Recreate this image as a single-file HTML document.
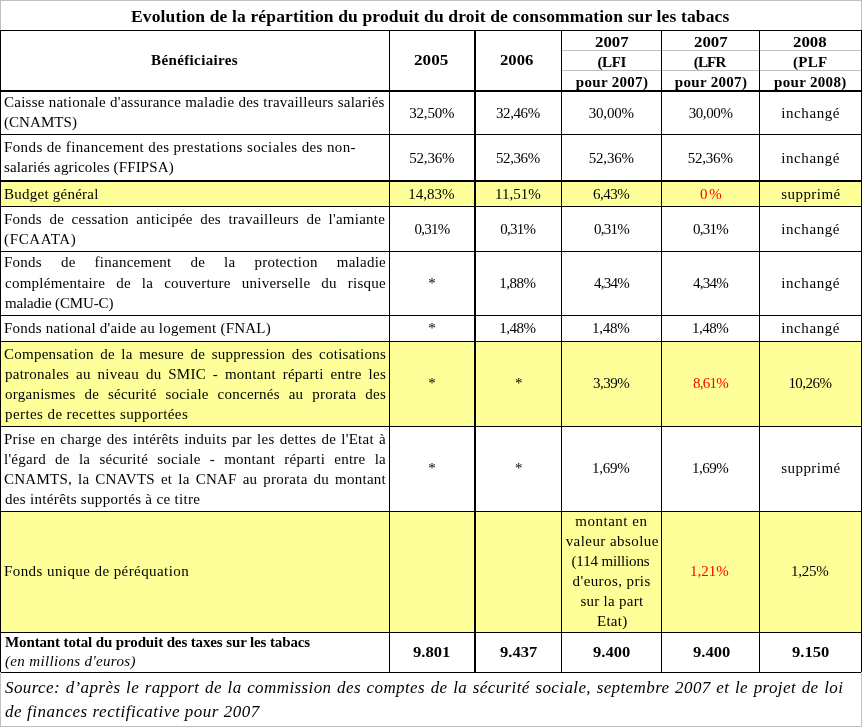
<!DOCTYPE html><html><head><meta charset="utf-8"><style>html,body{margin:0;padding:0;background:#fff;width:862px;height:727px;overflow:hidden;}.t{position:absolute;font-family:"Liberation Serif",serif;white-space:pre;line-height:30px;height:30px;}.j{text-align:justify;text-align-last:justify;white-space:normal;}.l{position:absolute;}</style></head><body>
<div class="l" style="left:0;top:182px;width:862px;height:24px;background:#ffff99"></div>
<div class="l" style="left:0;top:342px;width:862px;height:84px;background:#ffff99"></div>
<div class="l" style="left:0;top:512px;width:862px;height:120px;background:#ffff99"></div>
<div class="l" style="left:0px;top:0px;width:862px;height:1px;background:#c0c0c0"></div>
<div class="l" style="left:0px;top:726px;width:862px;height:1px;background:#c0c0c0"></div>
<div class="l" style="left:0px;top:30px;width:862px;height:1px;background:#000"></div>
<div class="l" style="left:562px;top:50px;width:299px;height:1px;background:#c0c0c0"></div>
<div class="l" style="left:562px;top:70px;width:299px;height:1px;background:#c0c0c0"></div>
<div class="l" style="left:0px;top:90px;width:862px;height:2px;background:#000"></div>
<div class="l" style="left:0px;top:134px;width:862px;height:1px;background:#000"></div>
<div class="l" style="left:0px;top:180px;width:862px;height:2px;background:#000"></div>
<div class="l" style="left:0px;top:206px;width:862px;height:1px;background:#000"></div>
<div class="l" style="left:0px;top:251px;width:862px;height:1px;background:#000"></div>
<div class="l" style="left:0px;top:315px;width:862px;height:1px;background:#000"></div>
<div class="l" style="left:0px;top:341px;width:862px;height:1px;background:#000"></div>
<div class="l" style="left:0px;top:426px;width:862px;height:1px;background:#000"></div>
<div class="l" style="left:0px;top:511px;width:862px;height:1px;background:#000"></div>
<div class="l" style="left:0px;top:632px;width:862px;height:1px;background:#000"></div>
<div class="l" style="left:1px;top:672px;width:860px;height:1px;background:#000"></div>
<div class="l" style="left:0px;top:0px;width:1px;height:727px;background:#c0c0c0"></div>
<div class="l" style="left:861px;top:0px;width:1px;height:727px;background:#c0c0c0"></div>
<div class="l" style="left:0px;top:30px;width:1px;height:642px;background:#000"></div>
<div class="l" style="left:861px;top:30px;width:1px;height:642px;background:#000"></div>
<div class="l" style="left:389px;top:30px;width:1px;height:643px;background:#000"></div>
<div class="l" style="left:474px;top:30px;width:2px;height:643px;background:#000"></div>
<div class="l" style="left:561px;top:30px;width:1px;height:643px;background:#000"></div>
<div class="l" style="left:661px;top:30px;width:1px;height:643px;background:#000"></div>
<div class="l" style="left:759px;top:30px;width:1px;height:643px;background:#000"></div>
<div style="position:absolute;left:0;top:0;width:862px;height:727px;will-change:transform">
<div class="t" id="t0" style="left:131.00px;top:1.00px;font-size:17.5px;letter-spacing:0.143px;font-weight:bold;color:#000">Evolution de la répartition du produit du droit de consommation sur les tabacs</div>
<div class="t" id="t1" style="left:151.10px;top:45.00px;font-size:15px;letter-spacing:0.367px;font-weight:bold;color:#000">Bénéficiaires</div>
<div class="t" id="t2" style="left:414.20px;top:45.00px;font-size:15px;transform:scaleX(1.1434);transform-origin:0 0;font-weight:bold;color:#000">2005</div>
<div class="t" id="t3" style="left:500.30px;top:45.00px;font-size:15px;transform:scaleX(1.1107);transform-origin:0 0;font-weight:bold;color:#000">2006</div>
<div class="t" id="t4" style="left:594.70px;top:27.00px;font-size:15px;transform:scaleX(1.1245);transform-origin:0 0;font-weight:bold;color:#000">2007</div>
<div class="t" id="t5" style="left:597.45px;top:47.00px;font-size:15px;letter-spacing:-0.400px;font-weight:bold;color:#000">(LFI</div>
<div class="t" id="t6" style="left:575.80px;top:67.00px;font-size:15px;letter-spacing:0.311px;font-weight:bold;color:#000">pour 2007)</div>
<div class="t" id="t7" style="left:693.70px;top:27.00px;font-size:15px;transform:scaleX(1.1245);transform-origin:0 0;font-weight:bold;color:#000">2007</div>
<div class="t" id="t8" style="left:693.70px;top:47.00px;font-size:15px;letter-spacing:-0.800px;font-weight:bold;color:#000">(LFR</div>
<div class="t" id="t9" style="left:674.80px;top:67.00px;font-size:15px;letter-spacing:0.311px;font-weight:bold;color:#000">pour 2007)</div>
<div class="t" id="t10" style="left:793.00px;top:27.00px;font-size:15px;transform:scaleX(1.1245);transform-origin:0 0;font-weight:bold;color:#000">2008</div>
<div class="t" id="t11" style="left:793.00px;top:47.00px;font-size:15px;letter-spacing:0.267px;font-weight:bold;color:#000">(PLF</div>
<div class="t" id="t12" style="left:774.10px;top:67.00px;font-size:15px;letter-spacing:0.311px;font-weight:bold;color:#000">pour 2008)</div>
<div class="t j" id="t13" style="left:4.00px;top:87.00px;width:380.70px;font-size:15px;letter-spacing:0.250px;color:#000">Caisse nationale d'assurance maladie des travailleurs salariés</div>
<div class="t" id="t14" style="left:4.00px;top:107.00px;font-size:15px;letter-spacing:0.057px;color:#000">(CNAMTS)</div>
<div class="t" id="t15" style="left:4.00px;top:132.00px;font-size:15px;letter-spacing:0.385px;color:#000">Fonds de financement des prestations sociales des non-</div>
<div class="t" id="t16" style="left:4.00px;top:152.00px;font-size:15px;letter-spacing:0.154px;color:#000">salariés agricoles (FFIPSA)</div>
<div class="t" id="t17" style="left:4.00px;top:179.00px;font-size:15px;letter-spacing:0.246px;color:#000">Budget général</div>
<div class="t j" id="t18" style="left:4.00px;top:204.00px;width:381.20px;font-size:15px;letter-spacing:0.250px;color:#000">Fonds de cessation anticipée des travailleurs de l'amiante</div>
<div class="t" id="t19" style="left:4.00px;top:224.00px;font-size:15px;letter-spacing:0.657px;color:#000">(FCAATA)</div>
<div class="t j" id="t20" style="left:4.00px;top:247.00px;width:382.00px;font-size:15px;letter-spacing:0.250px;color:#000">Fonds de financement de la protection maladie</div>
<div class="t j" id="t21" style="left:5.00px;top:268.00px;width:381.00px;font-size:15px;letter-spacing:0.250px;color:#000">complémentaire de la couverture universelle du risque</div>
<div class="t" id="t22" style="left:5.00px;top:288.00px;font-size:15px;letter-spacing:-0.143px;color:#000">maladie (CMU-C)</div>
<div class="t" id="t23" style="left:4.00px;top:313.00px;font-size:15px;letter-spacing:0.221px;color:#000">Fonds national d'aide au logement (FNAL)</div>
<div class="t j" id="t24" style="left:4.00px;top:339.00px;width:382.00px;font-size:15px;letter-spacing:0.250px;color:#000">Compensation de la mesure de suppression des cotisations</div>
<div class="t j" id="t25" style="left:5.00px;top:359.00px;width:381.00px;font-size:15px;letter-spacing:0.250px;color:#000">patronales au niveau du SMIC - montant réparti entre les</div>
<div class="t j" id="t26" style="left:5.00px;top:379.00px;width:381.00px;font-size:15px;letter-spacing:0.250px;color:#000">organismes de sécurité sociale concernés au prorata des</div>
<div class="t" id="t27" style="left:5.00px;top:399.00px;font-size:15px;letter-spacing:0.414px;color:#000">pertes de recettes supportées</div>
<div class="t j" id="t28" style="left:4.00px;top:424.00px;width:382.00px;font-size:15px;letter-spacing:0.250px;color:#000">Prise en charge des intérêts induits par les dettes de l'Etat à</div>
<div class="t j" id="t29" style="left:4.00px;top:444.00px;width:382.00px;font-size:15px;letter-spacing:0.250px;color:#000">l'égard de la sécurité sociale - montant réparti entre la</div>
<div class="t j" id="t30" style="left:4.00px;top:464.00px;width:382.00px;font-size:15px;letter-spacing:0.250px;color:#000">CNAMTS, la CNAVTS et la CNAF au prorata du montant</div>
<div class="t" id="t31" style="left:5.00px;top:484.00px;font-size:15px;letter-spacing:0.325px;color:#000">des intérêts supportés à ce titre</div>
<div class="t" id="t32" style="left:4.00px;top:556.00px;font-size:15px;letter-spacing:0.423px;color:#000">Fonds unique de péréquation</div>
<div class="t" id="t33" style="left:5.00px;top:627.00px;font-size:15px;letter-spacing:-0.125px;font-weight:bold;color:#000">Montant total du produit des taxes sur les tabacs</div>
<div class="t" id="t34" style="left:5.00px;top:646.00px;font-size:15px;letter-spacing:0.350px;font-style:italic;color:#000">(en millions d'euros)</div>
<div class="t j" id="t35" style="left:5.00px;top:673.00px;width:838.30px;font-size:17px;letter-spacing:0.400px;font-style:italic;color:#000">Source: d’après le rapport de la commission des comptes de la sécurité sociale, septembre 2007 et le projet de loi</div>
<div class="t" id="t36" style="left:5.00px;top:697.00px;font-size:17px;letter-spacing:0.529px;font-style:italic;color:#000">de finances rectificative pour 2007</div>
<div class="t" id="t37" style="left:409.25px;top:98.00px;font-size:15px;letter-spacing:-0.200px;color:#000">32,50%</div>
<div class="t" id="t38" style="left:495.95px;top:98.00px;font-size:15px;letter-spacing:-0.400px;color:#000">32,46%</div>
<div class="t" id="t39" style="left:588.75px;top:98.00px;font-size:15px;letter-spacing:-0.200px;color:#000">30,00%</div>
<div class="t" id="t40" style="left:688.65px;top:98.00px;font-size:15px;letter-spacing:-0.400px;color:#000">30,00%</div>
<div class="t" id="t41" style="left:781.20px;top:98.00px;font-size:15px;letter-spacing:0.600px;color:#000">inchangé</div>
<div class="t" id="t42" style="left:409.25px;top:143.00px;font-size:15px;letter-spacing:-0.200px;color:#000">52,36%</div>
<div class="t" id="t43" style="left:495.95px;top:143.00px;font-size:15px;letter-spacing:-0.400px;color:#000">52,36%</div>
<div class="t" id="t44" style="left:588.75px;top:143.00px;font-size:15px;letter-spacing:-0.200px;color:#000">52,36%</div>
<div class="t" id="t45" style="left:687.65px;top:143.00px;font-size:15px;letter-spacing:-0.200px;color:#000">52,36%</div>
<div class="t" id="t46" style="left:781.20px;top:143.00px;font-size:15px;letter-spacing:0.600px;color:#000">inchangé</div>
<div class="t" id="t47" style="left:408.25px;top:179.00px;font-size:15px;letter-spacing:-0.000px;color:#000">14,83%</div>
<div class="t" id="t48" style="left:494.95px;top:179.00px;font-size:15px;letter-spacing:0.000px;color:#000">11,51%</div>
<div class="t" id="t49" style="left:593.00px;top:179.00px;font-size:15px;letter-spacing:-0.500px;color:#000">6,43%</div>
<div class="t" id="t50" style="left:699.95px;top:179.00px;font-size:15px;letter-spacing:1.800px;color:#ff0000">0%</div>
<div class="t" id="t51" style="left:781.20px;top:179.00px;font-size:15px;letter-spacing:0.457px;color:#000">supprimé</div>
<div class="t" id="t52" style="left:414.50px;top:214.00px;font-size:15px;letter-spacing:-0.750px;color:#000">0,31%</div>
<div class="t" id="t53" style="left:500.20px;top:214.00px;font-size:15px;letter-spacing:-0.750px;color:#000">0,31%</div>
<div class="t" id="t54" style="left:594.00px;top:214.00px;font-size:15px;letter-spacing:-0.750px;color:#000">0,31%</div>
<div class="t" id="t55" style="left:692.90px;top:214.00px;font-size:15px;letter-spacing:-0.750px;color:#000">0,31%</div>
<div class="t" id="t56" style="left:781.20px;top:214.00px;font-size:15px;letter-spacing:0.600px;color:#000">inchangé</div>
<div class="t" id="t57" style="left:428.25px;top:268.00px;font-size:15px;letter-spacing:0.000px;color:#000">*</div>
<div class="t" id="t58" style="left:499.20px;top:268.00px;font-size:15px;letter-spacing:-0.500px;color:#000">1,88%</div>
<div class="t" id="t59" style="left:594.00px;top:268.00px;font-size:15px;letter-spacing:-0.750px;color:#000">4,34%</div>
<div class="t" id="t60" style="left:692.90px;top:268.00px;font-size:15px;letter-spacing:-0.750px;color:#000">4,34%</div>
<div class="t" id="t61" style="left:781.20px;top:268.00px;font-size:15px;letter-spacing:0.600px;color:#000">inchangé</div>
<div class="t" id="t62" style="left:428.25px;top:313.00px;font-size:15px;letter-spacing:0.000px;color:#000">*</div>
<div class="t" id="t63" style="left:499.20px;top:313.00px;font-size:15px;letter-spacing:-0.500px;color:#000">1,48%</div>
<div class="t" id="t64" style="left:592.00px;top:313.00px;font-size:15px;letter-spacing:-0.250px;color:#000">1,48%</div>
<div class="t" id="t65" style="left:691.90px;top:313.00px;font-size:15px;letter-spacing:-0.500px;color:#000">1,48%</div>
<div class="t" id="t66" style="left:781.20px;top:313.00px;font-size:15px;letter-spacing:0.600px;color:#000">inchangé</div>
<div class="t" id="t67" style="left:428.25px;top:368.00px;font-size:15px;letter-spacing:0.000px;color:#000">*</div>
<div class="t" id="t68" style="left:514.95px;top:368.00px;font-size:15px;letter-spacing:0.000px;color:#000">*</div>
<div class="t" id="t69" style="left:593.00px;top:368.00px;font-size:15px;letter-spacing:-0.500px;color:#000">3,39%</div>
<div class="t" id="t70" style="left:692.90px;top:368.00px;font-size:15px;letter-spacing:-0.750px;color:#ff0000">8,61%</div>
<div class="t" id="t71" style="left:788.40px;top:368.00px;font-size:15px;letter-spacing:-0.520px;color:#000">10,26%</div>
<div class="t" id="t72" style="left:428.25px;top:453.00px;font-size:15px;letter-spacing:0.000px;color:#000">*</div>
<div class="t" id="t73" style="left:514.95px;top:453.00px;font-size:15px;letter-spacing:0.000px;color:#000">*</div>
<div class="t" id="t74" style="left:592.00px;top:453.00px;font-size:15px;letter-spacing:-0.250px;color:#000">1,69%</div>
<div class="t" id="t75" style="left:691.90px;top:453.00px;font-size:15px;letter-spacing:-0.500px;color:#000">1,69%</div>
<div class="t" id="t76" style="left:781.20px;top:453.00px;font-size:15px;letter-spacing:0.457px;color:#000">supprimé</div>
<div class="t" id="t77" style="left:689.90px;top:556.00px;font-size:15px;letter-spacing:0.000px;color:#ff0000">1,21%</div>
<div class="t" id="t78" style="left:791.00px;top:556.00px;font-size:15px;letter-spacing:-0.250px;color:#000">1,25%</div>
<div class="t" id="t79" style="left:413.30px;top:637.00px;font-size:15px;transform:scaleX(1.1079);transform-origin:0 0;font-weight:bold;color:#000">9.801</div>
<div class="t" id="t80" style="left:500.00px;top:637.00px;font-size:15px;transform:scaleX(1.1033);transform-origin:0 0;font-weight:bold;color:#000">9.437</div>
<div class="t" id="t81" style="left:592.80px;top:637.00px;font-size:15px;transform:scaleX(1.1033);transform-origin:0 0;font-weight:bold;color:#000">9.400</div>
<div class="t" id="t82" style="left:692.70px;top:637.00px;font-size:15px;transform:scaleX(1.1033);transform-origin:0 0;font-weight:bold;color:#000">9.400</div>
<div class="t" id="t83" style="left:791.80px;top:637.00px;font-size:15px;transform:scaleX(1.1033);transform-origin:0 0;font-weight:bold;color:#000">9.150</div>
<div class="t" id="t84" style="left:575.30px;top:506.00px;font-size:15px;letter-spacing:0.511px;color:#000">montant en</div>
<div class="t" id="t85" style="left:565.70px;top:526.00px;font-size:15px;letter-spacing:0.431px;color:#000">valeur absolue</div>
<div class="t" id="t86" style="left:571.50px;top:546.00px;font-size:15px;letter-spacing:-0.150px;color:#000">(114 millions</div>
<div class="t" id="t87" style="left:572.60px;top:566.00px;font-size:15px;letter-spacing:0.417px;color:#000">d'euros, pris</div>
<div class="t" id="t88" style="left:580.50px;top:586.00px;font-size:15px;letter-spacing:0.260px;color:#000">sur la part</div>
<div class="t" id="t89" style="left:597.00px;top:606.00px;font-size:15px;letter-spacing:0.250px;color:#000">Etat)</div>
</div>
</body></html>
